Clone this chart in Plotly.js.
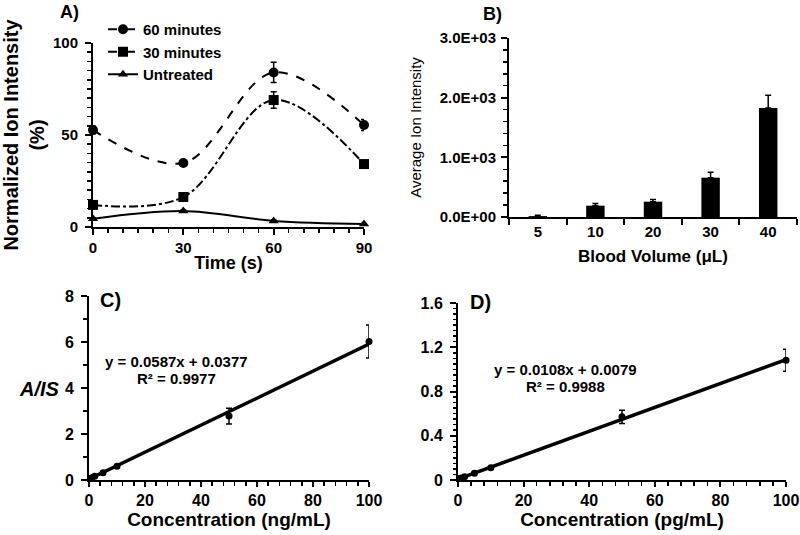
<!DOCTYPE html>
<html>
<head>
<meta charset="utf-8">
<script src="https://cdn.plot.ly/plotly-3.0.1.min.js"></script>
<style>html,body{margin:0;padding:0;background:#fff;}#chart{width:800px;height:535px;}</style>
</head>
<body>
<div id="chart"></div>
<script>
// ---- Panel A data ----
const timeS = [0, 30, 60, 90];
const min60 = [52.7, 34.8, 84, 55.4];
const min60Err = [2, 1.5, 5.5, 3];
const min30 = [12, 16.3, 69, 34.2];
const min30Err = [1, 1, 4.5, 1];
const untreated = [4.5, 8.7, 3.3, 1.6];
const untreatedErr = [0.5, 0.5, 0.5, 0.3];

// ---- Panel B data ----
const bloodVolume = ['5', '10', '20', '30', '40'];
const avgIntensity = [15, 190, 257, 659, 1827];
const avgIntensityErr = [15, 35, 35, 90, 212];
const bTickVals = [0, 1000, 2000, 3000];
const bTickText = ['0.0E+00', '1.0E+03', '2.0E+03', '3.0E+03'];

// ---- Panel C data ----
const concC = [0.5, 1, 2, 5, 10, 50, 100];
const ratioC = [0.07, 0.1, 0.16, 0.31, 0.6, 2.78, 6.02];
const ratioCErr = [0.02, 0.02, 0.03, 0.04, 0.05, 0.34, 0.72];
const slopeC = 0.0587, interceptC = 0.0377;

// ---- Panel D data ----
const concD = [0.5, 1, 2, 5, 10, 50, 100];
const ratioD = [0.013, 0.018, 0.03, 0.062, 0.11, 0.571, 1.083];
const ratioDErr = [0.003, 0.003, 0.005, 0.006, 0.01, 0.06, 0.1];
const slopeD = 0.0108, interceptD = 0.0079;
const trendX = [0, 100];

const FAM = '"Liberation Sans", Arial, sans-serif';
const W = 800, H = 535;
const px = v => v / W;
const py = v => 1 - v / H;
const bold = (size) => ({family: FAM, size: size, color: '#000', weight: 700});

const errA = (arr) => ({type: 'data', array: arr, visible: true, color: '#000', thickness: 1.5, width: 3});

const traces = [
  {x: timeS, y: min60, xaxis: 'x', yaxis: 'y', name: '60 minutes', type: 'scatter', mode: 'lines+markers',
   line: {color: '#000', width: 2, dash: 'dash', shape: 'spline', smoothing: 1},
   marker: {symbol: 'circle', size: 10, color: '#000'}, error_y: errA(min60Err), cliponaxis: false},
  {x: timeS, y: min30, xaxis: 'x', yaxis: 'y', name: '30 minutes', type: 'scatter', mode: 'lines+markers',
   line: {color: '#000', width: 2, dash: 'dashdot', shape: 'spline', smoothing: 1},
   marker: {symbol: 'square', size: 10, color: '#000'}, error_y: errA(min30Err), cliponaxis: false},
  {x: timeS, y: untreated, xaxis: 'x', yaxis: 'y', name: 'Untreated', type: 'scatter', mode: 'lines+markers',
   line: {color: '#000', width: 2, shape: 'spline', smoothing: 1},
   marker: {symbol: 'triangle-up', size: 9, color: '#000'}, error_y: errA(untreatedErr), cliponaxis: false},
  {x: bloodVolume, y: avgIntensity, xaxis: 'x2', yaxis: 'y2', type: 'bar', showlegend: false,
   marker: {color: '#000'},
   error_y: {type: 'data', symmetric: false, array: avgIntensityErr, arrayminus: avgIntensityErr.map(() => 0),
             color: '#000', thickness: 1.5, width: 3}},
  {x: trendX, y: trendX.map(v => slopeC * v + interceptC), xaxis: 'x3', yaxis: 'y3', type: 'scatter', mode: 'lines',
   line: {color: '#000', width: 3.5}, showlegend: false, cliponaxis: false},
  {x: concC, y: ratioC, xaxis: 'x3', yaxis: 'y3', type: 'scatter', mode: 'markers', showlegend: false,
   marker: {color: '#000', size: 7}, error_y: errA(ratioCErr), cliponaxis: false},
  {x: trendX, y: trendX.map(v => slopeD * v + interceptD), xaxis: 'x4', yaxis: 'y4', type: 'scatter', mode: 'lines',
   line: {color: '#000', width: 3.5}, showlegend: false, cliponaxis: false},
  {x: concD, y: ratioD, xaxis: 'x4', yaxis: 'y4', type: 'scatter', mode: 'markers', showlegend: false,
   marker: {color: '#000', size: 7}, error_y: errA(ratioDErr), cliponaxis: false}
];

function ax(extra) {
  return Object.assign({
    showline: true, linecolor: '#000', linewidth: 2, zeroline: false, showgrid: false,
    ticks: 'outside', tickcolor: '#000', tickwidth: 2, ticklen: 6, automargin: false,
    fixedrange: true
  }, extra);
}
const minor = (d, len) => ({ticks: 'outside', dtick: d, ticklen: len || 4, tickwidth: 1.5, tickcolor: '#000', showgrid: false});

function note(text, x, y, size) {
  return {text: text, x: px(x), y: py(y), xref: 'paper', yref: 'paper', xanchor: 'center', yanchor: 'middle',
          showarrow: false, font: bold(size)};
}

const layout = {
  width: W, height: H,
  margin: {l: 0, r: 0, t: 0, b: 0},
  paper_bgcolor: '#fff', plot_bgcolor: '#fff',
  font: {family: FAM, color: '#000'},
  showlegend: true,
  legend: {x: px(103), y: py(13), xanchor: 'left', yanchor: 'top', bgcolor: 'rgba(0,0,0,0)',
           font: bold(15), tracegroupgap: 0, itemwidth: 30},
  bargap: 0.68,
  // Panel A
  xaxis: ax({domain: [px(93), px(364)], anchor: 'y', range: [0, 90], dtick: 30, tick0: 0,
             tickfont: bold(15), minor: minor(5),
             title: {text: 'Time (s)', font: bold(18), standoff: 1}}),
  yaxis: ax({domain: [py(227), py(43)], anchor: 'x', range: [0, 100], dtick: 50, tick0: 0,
             tickfont: bold(15), minor: minor(5), ticklabelstandoff: 4,
             title: {text: 'Normalized Ion Intensity<br>(%)', font: bold(20), standoff: 8}}),
  // Panel B
  xaxis2: ax({domain: [px(509), px(797)], anchor: 'y2', type: 'category', range: [-0.5, 4.5],
              tickson: 'boundaries', tickfont: bold(15),
              title: {text: 'Blood Volume (μL)', font: bold(17), standoff: 11}}),
  yaxis2: ax({domain: [py(217), py(38)], anchor: 'x2', range: [0, 3000],
              tickvals: bTickVals, ticktext: bTickText, tickfont: bold(15), minor: minor(200), ticklabelstandoff: 2,
              title: {text: 'Average Ion Intensity', font: {family: FAM, size: 15, color: '#000'}, standoff: 14}}),
  // Panel C
  xaxis3: ax({domain: [px(89), px(369)], anchor: 'y3', range: [0, 100], dtick: 20, tick0: 0,
              tickfont: bold(16), minor: minor(4), ticklen: 5,
              title: {text: 'Concentration (ng/mL)', font: bold(19), standoff: 0}}),
  yaxis3: ax({domain: [py(480), py(296)], anchor: 'x3', range: [0, 8], dtick: 2, tick0: 0,
              tickfont: bold(16), minor: minor(1), ticklabelstandoff: 4}),
  // Panel D
  xaxis4: ax({domain: [px(458), px(786)], anchor: 'y4', range: [0, 100], dtick: 20, tick0: 0,
              tickfont: bold(16), minor: minor(4), ticklen: 5,
              title: {text: 'Concentration (pg/mL)', font: bold(19), standoff: 0}}),
  yaxis4: ax({domain: [py(480), py(303)], anchor: 'x4', range: [0, 1.6], dtick: 0.4, tick0: 0,
              tickfont: bold(16), minor: minor(0.05, 3), ticklabelstandoff: 4}),
  annotations: [
    note('A)', 69, 12, 18),
    note('B)', 492, 14, 18),
    note('C)', 110, 300, 20),
    note('D)', 480, 302, 20),
    note('y = 0.0587x + 0.0377', 176, 361, 15),
    note('R² = 0.9977', 176, 378, 15),
    note('y = 0.0108x + 0.0079', 565, 369, 15),
    note('R² = 0.9988', 565, 386, 15),
    note('<i>A/IS</i>', 39, 389, 20)
  ]
};

Plotly.newPlot('chart', traces, layout, {displayModeBar: false, staticPlot: true});
</script>
</body>
</html>
